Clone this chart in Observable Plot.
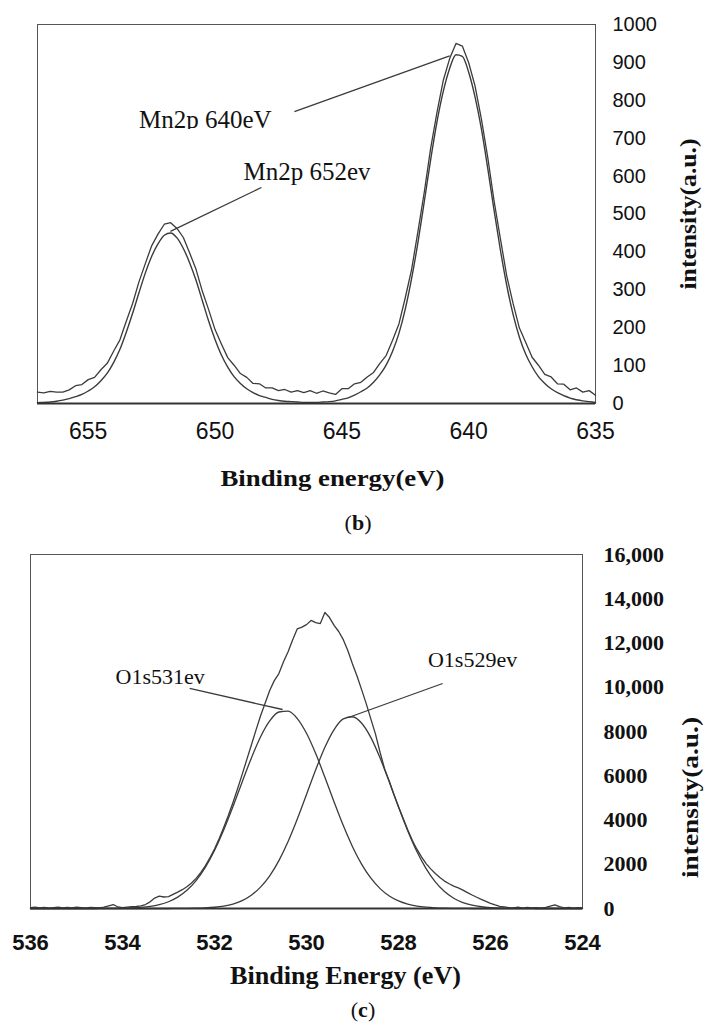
<!DOCTYPE html>
<html>
<head>
<meta charset="utf-8">
<script src="https://cdn.jsdelivr.net/npm/d3@7"></script>
<script src="https://cdn.jsdelivr.net/npm/@observablehq/plot@0.6"></script>
<style>
  html, body { margin: 0; padding: 0; background: #fff; overflow: hidden; }
  #page { position: relative; width: 704px; height: 1030px; }
  #panel-b { position: absolute; left: 0; top: 0; z-index: 1; }
  #panel-c { position: absolute; left: 0; top: 530px; z-index: 1; }
  .cap { position: absolute; z-index: 3; transform: translateX(-50%); font-family: 'Liberation Serif', 'Times New Roman', serif;
         font-size: 22px; line-height: 24px; color: #111; white-space: nowrap; }
</style>
</head>
<body>
<div id="page">
  <div id="panel-b"></div>
  <div class="cap" style="left:358px;top:511px">(<b>b</b>)</div>
  <div id="panel-c"></div>
  <div class="cap" style="left:363px;top:998px">(<b>c</b>)</div>
</div>
<script>
// ---------- Mn 2p spectrum (panel b) ----------
const mnEnergy = [657, 656.75, 656.5, 656.25, 656, 655.75, 655.5, 655.25, 655, 654.75, 654.5, 654.25, 654, 653.75, 653.5, 653.25, 653, 652.75, 652.5, 652.25, 652, 651.75, 651.5, 651.25, 651, 650.75, 650.5, 650.25, 650, 649.75, 649.5, 649.25, 649, 648.75, 648.5, 648.25, 648, 647.75, 647.5, 647.25, 647, 646.75, 646.5, 646.25, 646, 645.75, 645.5, 645.25, 645, 644.75, 644.5, 644.25, 644, 643.75, 643.5, 643.25, 643, 642.75, 642.5, 642.25, 642, 641.75, 641.5, 641.25, 641, 640.75, 640.5, 640.25, 640, 639.75, 639.5, 639.25, 639, 638.75, 638.5, 638.25, 638, 637.75, 637.5, 637.25, 637, 636.75, 636.5, 636.25, 636, 635.75, 635.5, 635.25, 635];
// fitted envelope (background removed)
const mnFit = [2, 3, 4, 6, 9, 13, 18, 24, 33, 44, 60, 80, 108, 143, 188, 238, 292, 344, 388, 421, 444, 450, 437, 409, 371, 325, 271, 217, 169, 128, 96, 71, 53, 39, 29, 21, 16, 11, 8, 6, 5, 4, 3, 3, 3, 4, 5, 7, 11, 15, 22, 31, 41, 56, 76, 102, 138, 185, 249, 330, 425, 533, 643, 743, 824, 884, 920, 916, 874, 809, 725, 621, 510, 405, 312, 235, 175, 130, 97, 71, 53, 39, 29, 21, 14, 10, 7, 5, 3];
// measured counts
const mnMeasured = [30, 28, 32, 30, 30, 36, 47, 50, 63, 69, 89, 106, 138, 168, 217, 264, 321, 369, 416, 447, 473, 477, 462, 438, 397, 354, 296, 247, 195, 157, 121, 101, 79, 69, 53, 52, 41, 41, 34, 37, 30, 34, 29, 34, 27, 33, 28, 24, 39, 39, 52, 56, 70, 82, 106, 127, 167, 210, 279, 354, 454, 558, 673, 768, 853, 910, 950, 943, 899, 838, 751, 650, 535, 435, 337, 264, 199, 161, 122, 101, 77, 70, 52, 51, 36, 41, 30, 34, 22];
const mnTicksX = [655, 650, 645, 640, 635];
const mnTicksY = [0, 100, 200, 300, 400, 500, 600, 700, 800, 900, 1000];
const mnTickLabelsY = ["0", "100", "200", "300", "400", "500", "600", "700", "800", "900", "1000"];
const mnLabelText = ["Mn2p 640eV", "Mn2p 652ev"];
const mnLabelEnergy = [653.0, 648.88];
const mnLabelIntensity = [726, 591];
const mnLeaderX1 = [646.87, 648.17];
const mnLeaderY1 = [770, 570];
const mnLeaderX2 = [640.75, 651.76];
const mnLeaderY2 = [917, 454];
const mnTitleX = "Binding energy(eV)";

// ---------- O 1s spectrum (panel c) ----------
const o1sEnergy = [536, 535.9, 535.8, 535.7, 535.6, 535.5, 535.4, 535.3, 535.2, 535.1, 535, 534.9, 534.8, 534.7, 534.6, 534.5, 534.4, 534.3, 534.2, 534.1, 534, 533.9, 533.8, 533.7, 533.6, 533.5, 533.4, 533.3, 533.2, 533.1, 533, 532.9, 532.8, 532.7, 532.6, 532.5, 532.4, 532.3, 532.2, 532.1, 532, 531.9, 531.8, 531.7, 531.6, 531.5, 531.4, 531.3, 531.2, 531.1, 531, 530.9, 530.8, 530.7, 530.6, 530.5, 530.4, 530.3, 530.2, 530.1, 530, 529.9, 529.8, 529.7, 529.6, 529.5, 529.4, 529.3, 529.2, 529.1, 529, 528.9, 528.8, 528.7, 528.6, 528.5, 528.4, 528.3, 528.2, 528.1, 528, 527.9, 527.8, 527.7, 527.6, 527.5, 527.4, 527.3, 527.2, 527.1, 527, 526.9, 526.8, 526.7, 526.6, 526.5, 526.4, 526.3, 526.2, 526.1, 526, 525.9, 525.8, 525.7, 525.6, 525.5, 525.4, 525.3, 525.2, 525.1, 525, 524.9, 524.8, 524.7, 524.6, 524.5, 524.4, 524.3, 524.2, 524.1, 524];
const o1sMeasured = [40, 60, 30, 50, 20, 40, 60, 30, 50, 30, 60, 40, 20, 50, 40, 30, 60, 120, 180, 70, 40, 60, 80, 90, 120, 180, 300, 470, 560, 520, 540, 640, 740, 850, 980, 1150, 1360, 1620, 1930, 2290, 2690, 3150, 3660, 4200, 4780, 5400, 6050, 6720, 7380, 8050, 8700, 9280, 9850, 10300, 10620, 11150, 11600, 12150, 12640, 12720, 12830, 13020, 12920, 12880, 13380, 13150, 12800, 12520, 12150, 11650, 11050, 10500, 9880, 9250, 8560, 7880, 7050, 6300, 5750, 5150, 4600, 4080, 3560, 3080, 2680, 2330, 2030, 1790, 1580, 1400, 1240, 1120, 1010, 930, 830, 720, 610, 510, 410, 320, 230, 160, 100, 70, 40, 30, 60, 20, 50, 30, 40, 20, 50, 110, 160, 80, 30, 50, 20, 40, 30];
const o1sPeakEnergy = [536, 535.8, 535.6, 535.4, 535.2, 535, 534.8, 534.6, 534.4, 534.2, 534, 533.8, 533.6, 533.4, 533.2, 533, 532.8, 532.6, 532.4, 532.2, 532, 531.8, 531.6, 531.4, 531.2, 531, 530.8, 530.6, 530.4, 530.2, 530, 529.8, 529.6, 529.4, 529.2, 529, 528.8, 528.6, 528.4, 528.2, 528, 527.8, 527.6, 527.4, 527.2, 527, 526.8, 526.6, 526.4, 526.2, 526, 525.8, 525.6, 525.4, 525.2, 525, 524.8, 524.6, 524.4, 524.2, 524];
const o1s531 = [0, 0, 0, 0, 0, 0, 0, 1, 3, 6, 12, 26, 51, 96, 176, 306, 513, 822, 1262, 1859, 2622, 3546, 4595, 5708, 6795, 7752, 8476, 8882, 8920, 8585, 7919, 7001, 5931, 4815, 3747, 2794, 1997, 1369, 898, 565, 341, 197, 109, 58, 29, 14, 7, 3, 1, 0, 0, 0, 0, 0, 0, 0, 0, 0, 0, 0, 0];
const o1s529 = [0, 0, 0, 0, 0, 0, 0, 0, 0, 0, 0, 0, 0, 0, 0, 1, 3, 6, 13, 28, 57, 110, 202, 356, 600, 964, 1478, 2165, 3027, 4041, 5152, 6271, 7287, 8086, 8568, 8667, 8372, 7721, 6799, 5717, 4589, 3518, 2574, 1799, 1200, 765, 465, 270, 150, 79, 40, 19, 9, 4, 2, 1, 0, 0, 0, 0, 0];
const o1sTicksX = [536, 534, 532, 530, 528, 526, 524];
const o1sTicksY = [0, 2000, 4000, 6000, 8000, 10000, 12000, 14000, 16000];
const o1sTickLabelsY = ["0", "2000", "4000", "6000", "8000", "10,000", "12,000", "14,000", "16,000"];
const o1sLabelText = ["O1s531ev", "O1s529ev"];
const o1sLabelEnergy = [534.15, 527.36];
const o1sLabelIntensity = [10169, 10893];
const o1sLeaderX1 = [532.54, 527.04];
const o1sLeaderY1 = [9944, 10169];
const o1sLeaderX2 = [530.52, 529.09];
const o1sLeaderY2 = [8994, 8633];
const o1sTitleX = "Binding Energy (eV)";

const yTitle = "intensity(a.u.)";

// ---------- shared styling ----------
const serif = "'Liberation Serif', 'Times New Roman', serif";
const sans = "'Liberation Sans', Arial, sans-serif";
const ink = "#3b3b3b";

function stretchText(svg, str, len) {
  for (const t of svg.querySelectorAll("text")) {
    if (t.textContent === str) {
      t.setAttribute("textLength", len);
      t.setAttribute("lengthAdjust", "spacingAndGlyphs");
    }
  }
}

// ---------- panel b ----------
const mnRows = mnEnergy.map((e, i) => ({e, fit: mnFit[i], raw: mnMeasured[i]}));
const mnLabels = mnLabelText.map((t, i) => ({t, e: mnLabelEnergy[i], v: mnLabelIntensity[i]}));
const mnLeaders = mnLeaderX1.map((x1, i) => ({x1, y1: mnLeaderY1[i], x2: mnLeaderX2[i], y2: mnLeaderY2[i]}));

const plotB = Plot.plot({
  width: 704,
  height: 510,
  marginTop: 24,
  marginRight: 109,
  marginBottom: 107,
  marginLeft: 37,
  style: {background: "#fff", color: "#111", overflow: "visible"},
  x: {domain: [657, 635]},
  y: {domain: [0, 1000]},
  marks: [
    Plot.axisX({ticks: mnTicksX, tickSize: 0, tickPadding: 19, fontSize: 23, fontFamily: sans, label: null}),
    Plot.axisY({anchor: "right", ticks: mnTicksY, tickFormat: d => mnTickLabelsY[mnTicksY.indexOf(d)],
      tickSize: 0, tickPadding: 17, fontSize: 20, fontFamily: sans, label: null}),
    Plot.frame({stroke: "#555", strokeWidth: 1}),
    Plot.line(mnRows, {x: "e", y: "fit", stroke: ink, strokeWidth: 1.4, curve: "monotone-x"}),
    Plot.line(mnRows, {x: "e", y: "raw", stroke: ink, strokeWidth: 1.3}),
    Plot.ruleY([0], {stroke: "#333", strokeWidth: 1.8}),
    Plot.link(mnLeaders, {x1: "x1", y1: "y1", x2: "x2", y2: "y2", stroke: ink, strokeWidth: 1.3}),
    Plot.text(mnLabels, {x: "e", y: "v", text: "t", textAnchor: "start", lineAnchor: "bottom",
      fontSize: 25, fontFamily: serif, fill: "#111"}),
    Plot.text([mnTitleX], {text: d => d, frameAnchor: "bottom", dx: 16, dy: 82, textAnchor: "middle", lineAnchor: "bottom",
      fontSize: 23, fontWeight: "bold", fontFamily: serif, fill: "#111"}),
    Plot.text([yTitle], {text: d => d, frameAnchor: "right", dx: 93, rotate: -90, textAnchor: "middle", lineAnchor: "middle",
      fontSize: 24, fontWeight: "bold", fontFamily: serif, fill: "#111"})
  ]
});
document.getElementById("panel-b").append(plotB);
stretchText(plotB, mnTitleX, 224);
stretchText(plotB, yTitle, 151);

// the upper Mn label sits in a text box that trims its descenders
(function trimLabel(svg, str) {
  const ns = "http://www.w3.org/2000/svg";
  const defs = document.createElementNS(ns, "defs");
  const cp = document.createElementNS(ns, "clipPath");
  cp.setAttribute("id", "mn-label-box");
  cp.setAttribute("clipPathUnits", "objectBoundingBox");
  const r = document.createElementNS(ns, "rect");
  r.setAttribute("x", "-0.05");
  r.setAttribute("y", "-0.1");
  r.setAttribute("width", "1.1");
  r.setAttribute("height", "0.94");
  cp.append(r);
  defs.append(cp);
  svg.prepend(defs);
  for (const t of svg.querySelectorAll("text")) {
    if (t.textContent === str) t.setAttribute("clip-path", "url(#mn-label-box)");
  }
})(plotB, "Mn2p 640eV");

// ---------- panel c ----------
const o1sRows = o1sEnergy.map((e, i) => ({e, v: o1sMeasured[i]}));
const o1sPeaks = o1sPeakEnergy.map((e, i) => ({e, a: o1s531[i], b: o1s529[i]}));
const o1sLabels = o1sLabelText.map((t, i) => ({t, e: o1sLabelEnergy[i], v: o1sLabelIntensity[i]}));
const o1sLeaders = o1sLeaderX1.map((x1, i) => ({x1, y1: o1sLeaderY1[i], x2: o1sLeaderX2[i], y2: o1sLeaderY2[i]}));

const plotC = Plot.plot({
  width: 704,
  height: 470,
  marginTop: 24,
  marginRight: 122,
  marginBottom: 92,
  marginLeft: 30,
  style: {background: "#fff", color: "#111", overflow: "visible"},
  x: {domain: [536, 524]},
  y: {domain: [0, 16000]},
  marks: [
    Plot.axisX({ticks: o1sTicksX, tickSize: 0, tickPadding: 26, fontSize: 22, fontWeight: "bold", fontFamily: sans, label: null}),
    Plot.axisY({anchor: "right", ticks: o1sTicksY, tickFormat: d => o1sTickLabelsY[o1sTicksY.indexOf(d)],
      tickSize: 0, tickPadding: 21, fontSize: 22, fontWeight: "bold", fontFamily: serif, label: null}),
    Plot.frame({stroke: "#555", strokeWidth: 1}),
    Plot.line(o1sPeaks, {x: "e", y: "a", stroke: ink, strokeWidth: 1.3, curve: "monotone-x"}),
    Plot.line(o1sPeaks, {x: "e", y: "b", stroke: ink, strokeWidth: 1.3, curve: "monotone-x"}),
    Plot.line(o1sRows, {x: "e", y: "v", stroke: ink, strokeWidth: 1.3}),
    Plot.ruleY([0], {stroke: "#333", strokeWidth: 1.8}),
    Plot.link(o1sLeaders, {x1: "x1", y1: "y1", x2: "x2", y2: "y2", stroke: ink, strokeWidth: 1.3}),
    Plot.text(o1sLabels, {x: "e", y: "v", text: "t", textAnchor: "start", lineAnchor: "bottom",
      fontSize: 22, fontFamily: serif, fill: "#111"}),
    Plot.text([o1sTitleX], {text: d => d, frameAnchor: "bottom", dx: 39, dy: 75, textAnchor: "middle", lineAnchor: "bottom",
      fontSize: 25, fontWeight: "bold", fontFamily: serif, fill: "#111"}),
    Plot.text([yTitle], {text: d => d, frameAnchor: "right", dx: 108, dy: 66, rotate: -90, textAnchor: "middle", lineAnchor: "middle",
      fontSize: 24, fontWeight: "bold", fontFamily: serif, fill: "#111"})
  ]
});
document.getElementById("panel-c").append(plotC);
stretchText(plotC, o1sTitleX, 231);
stretchText(plotC, yTitle, 161);
</script>
</body>
</html>
